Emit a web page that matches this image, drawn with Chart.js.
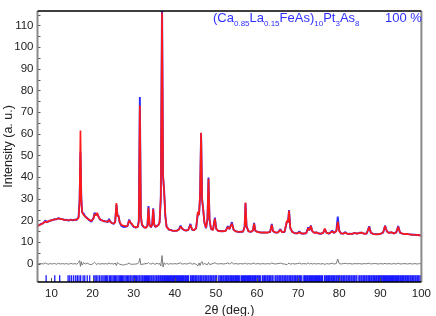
<!DOCTYPE html>
<html>
<head>
<meta charset="utf-8">
<script src="https://cdn.jsdelivr.net/npm/chart.js@4/dist/chart.umd.min.js"></script>
<style>
  html,body{margin:0;padding:0;background:#fff;}
  #wrap{position:relative;width:436px;height:316px;}
  #c{position:absolute;left:0;top:0;}
  .lbl{position:absolute;font-family:"Liberation Sans",Arial,sans-serif;font-size:13px;color:#2f2fff;white-space:nowrap;line-height:1;}
  .lbl sub{font-size:8px;vertical-align:-4px;line-height:0;}
</style>
</head>
<body>
<div id="wrap">
<canvas id="c" width="436" height="316"></canvas>
<div class="lbl" style="left:213px;top:11px;">(Ca<sub>0.85</sub>La<sub>0.15</sub>FeAs)<sub>10</sub>Pt<sub>3</sub>As<sub>8</sub></div>
<div class="lbl" style="left:385px;top:11px;">100 %</div>
</div>
<script>
const twoTheta = [6.6,7.0,7.5,8.0,8.5,8.8,9.2,9.7,10.2,10.7,11.2,11.7,12.2,12.7,13.2,13.7,14.2,14.7,15.2,15.7,16.2,16.6,16.85,17.05,17.25,17.45,17.8,18.2,18.7,19.2,19.7,20.2,20.5,20.8,21.1,21.4,21.8,22.3,22.8,23.3,23.7,24.0,24.3,24.7,25.2,25.5,25.8,26.05,26.3,26.6,27.0,27.5,28.0,28.5,28.9,29.2,29.6,30.0,30.5,31.0,31.25,31.5,31.75,32.0,32.5,33.0,33.35,33.6,33.85,34.2,34.5,34.75,35.0,35.3,35.7,36.0,36.3,36.6,36.9,37.15,37.4,37.7,38.0,38.5,39.0,39.5,40.0,40.5,41.0,41.4,41.8,42.3,42.8,43.3,43.8,44.2,44.7,45.2,45.6,45.9,46.15,46.4,46.65,46.9,47.2,47.6,47.95,48.2,48.45,48.8,49.3,49.75,50.1,50.6,51.2,51.8,52.4,52.9,53.3,53.9,54.3,54.8,55.4,56.0,56.6,57.0,57.2,57.45,57.9,58.5,59.0,59.3,59.6,60.2,60.8,61.4,62.0,62.6,63.2,63.6,63.9,64.5,65.1,65.7,66.1,66.7,67.3,67.55,67.8,68.1,68.6,69.2,69.8,70.3,70.8,71.4,72.0,72.45,72.75,73.1,73.45,74.0,74.4,74.9,75.5,76.1,76.5,76.9,77.5,78.0,78.3,78.7,79.3,79.65,80.0,80.5,81.0,81.5,82.0,82.6,83.2,83.8,84.3,84.9,85.5,86.1,86.7,87.3,87.7,88.3,88.9,89.5,90.1,90.7,91.15,91.6,92.1,92.7,93.3,93.9,94.35,94.8,95.4,96.0,96.6,97.2,97.8,98.4,99.0,99.6,100.0];
const yObs = [17.3,17.9,18.4,18.7,20.0,19.3,19.4,20.0,20.1,20.6,20.5,21.1,20.6,20.6,20.2,20.3,19.9,20.4,20.1,20.4,20.3,21.8,30.0,51.5,31.0,23.8,23.2,21.8,21.1,20.1,19.4,21.0,23.6,22.4,23.1,22.1,20.4,20.1,19.6,19.6,19.2,20.7,19.4,18.8,18.4,19.6,27.2,22.6,22.2,19.0,17.5,17.0,17.1,17.4,20.4,19.0,18.1,17.0,16.7,17.1,20.0,77.0,22.0,18.0,16.8,16.7,17.6,26.6,18.1,16.8,18.2,25.6,18.0,17.0,17.6,17.8,19.2,30.0,122,40.0,34.0,22.0,17.2,15.8,15.6,15.2,15.3,15.2,15.9,17.6,16.1,15.6,15.3,15.7,18.4,15.7,15.6,16.4,23.0,22.8,31.0,60.2,30.0,25.2,19.2,16.4,20.6,39.8,20.3,16.1,15.7,21.3,16.1,15.1,15.1,15.0,15.3,17.4,16.0,19.2,15.7,15.1,14.7,14.8,14.8,17.2,27.9,17.4,15.1,14.7,15.4,18.9,15.2,14.7,14.4,14.5,14.4,14.5,14.7,18.4,15.1,14.4,14.5,16.0,14.6,14.7,19.6,19.1,24.8,16.4,14.7,14.1,14.1,14.9,13.9,14.0,14.1,16.8,15.4,17.7,15.0,14.3,14.5,14.1,13.8,14.3,16.0,14.4,13.9,14.7,15.3,14.2,15.1,21.8,15.3,13.9,14.0,14.6,13.8,13.9,13.8,14.3,13.9,14.3,14.3,13.9,14.0,17.3,14.3,13.8,13.7,13.6,13.9,14.4,17.6,14.9,14.3,14.5,14.1,14.5,17.4,14.3,13.9,13.8,13.7,13.6,13.4,13.4,13.3,13.2,13.0];
const yCalc = [17.5,17.8,18.3,18.8,19.6,19.2,19.6,19.9,20.2,20.4,20.7,20.9,20.7,20.5,20.3,20.2,20.1,20.2,20.2,20.3,20.5,21.2,28.5,61.5,30.0,24.0,22.6,21.9,20.8,20.3,19.8,20.8,23.0,22.3,23.5,21.8,20.6,20.0,19.7,19.5,19.4,20.2,19.5,18.7,18.6,19.2,28.0,22.0,22.1,19.2,17.9,17.6,17.4,17.5,20.0,19.2,18.3,17.2,16.8,17.0,19.5,73.0,22.5,18.2,16.9,16.6,17.5,26.0,18.0,17.0,18.0,25.3,18.2,17.1,17.4,17.9,19.0,31.0,116,41.0,33.5,22.3,17.0,16.0,15.5,15.3,15.2,15.3,15.7,17.2,16.3,15.5,15.4,15.6,18.0,15.9,15.5,16.6,24.0,22.4,32.0,60.5,29.0,25.6,19.0,16.6,21.0,39.2,20.6,16.3,15.6,20.8,16.0,15.2,15.0,15.1,15.2,17.0,16.1,18.6,15.8,15.0,14.8,14.7,14.9,17.0,28.3,17.6,15.0,14.8,15.3,18.5,15.3,14.6,14.5,14.4,14.5,14.4,14.8,18.0,15.0,14.5,14.4,15.7,14.6,14.8,20.0,19.0,24.5,16.6,14.6,14.2,14.0,14.6,14.0,13.9,14.2,16.4,15.5,17.5,15.1,14.2,14.6,14.0,13.9,14.2,16.3,14.3,14.0,14.6,15.0,14.3,15.0,19.4,15.2,14.0,13.9,14.4,13.8,13.8,13.9,14.2,13.9,14.2,14.4,13.8,14.0,17.0,14.4,13.7,13.6,13.7,13.8,14.5,17.4,15.0,14.2,14.6,14.0,14.6,17.1,14.4,13.9,13.7,13.8,13.5,13.5,13.3,13.4,13.1,13.0];
const yDiff = [-0.2,0.1,0.1,-0.1,0.4,0.1,-0.2,0.1,-0.1,0.2,-0.2,0.2,-0.1,0.1,-0.1,0.1,-0.2,0.2,-0.1,0.1,-0.2,0.6,1.5,-1.2,1.0,-0.6,0.6,-0.1,0.3,-0.2,-0.4,0.2,0.6,0.1,-0.4,0.3,-0.2,0.1,-0.1,0.1,-0.2,0.5,-0.1,0.1,-0.2,0.4,-0.8,0.6,0.1,-0.2,-0.4,-0.6,-0.3,-0.1,0.4,-0.2,-0.2,-0.2,-0.1,0.1,0.5,2.5,-0.5,-0.2,-0.1,0.1,0.1,0.6,0.1,-0.2,0.2,0.3,-0.2,-0.1,0.2,-0.1,0.2,-1.0,3.8,-1.5,0.5,-0.3,0.2,-0.2,0.1,-0.1,0.1,-0.1,0.2,0.4,-0.2,0.1,-0.1,0.1,0.4,-0.2,0.1,-0.2,-1.0,0.4,-0.8,0.6,1.0,-0.4,0.2,-0.2,-0.4,0.6,-0.3,-0.2,0.1,0.5,0.1,-0.1,0.1,-0.1,0.1,0.4,-0.1,0.6,-0.1,0.1,-0.1,0.1,-0.1,0.2,0.4,-0.2,0.1,-0.1,0.1,0.4,-0.1,0.1,-0.1,0.1,-0.1,0.1,-0.1,0.4,0.1,-0.1,0.1,0.3,0.0,-0.1,-0.4,0.1,0.3,-0.2,0.1,-0.1,0.1,0.3,-0.1,0.1,-0.1,0.4,-0.1,0.2,-0.1,0.1,-0.1,0.1,-0.1,0.1,-0.3,0.1,-0.1,0.1,0.3,-0.1,0.1,2.2,0.1,-0.1,0.1,0.2,0.0,0.1,-0.1,0.1,0.0,0.1,-0.1,0.1,0.0,0.3,-0.1,0.1,0.1,-0.1,0.1,-0.1,0.2,-0.1,0.1,-0.1,0.1,-0.1,0.3,-0.1,0.0,0.1,-0.1,0.1,-0.1,0.1,-0.1,0.1,0.0];
const braggPos = [8.7,10.8,12.0,14.05,14.45,14.9,15.4,15.9,16.3,16.7,17.1,17.7,18.1,18.7,19.3,20.3,20.6,20.9,21.3,21.7,22.1,22.5,22.8,23.1,23.4,23.7,24.1,24.4,24.7,25.0,25.3,25.6,25.9,26.2,26.5,26.8,27.0,27.3,27.6,27.9,28.2,28.5,28.8,29.1,29.3,29.6,29.9,30.2,30.4,30.7,31.0,31.3,31.5,31.8,32.1,32.3,32.6,32.9,33.1,33.4,33.6,33.9,34.2,34.4,34.7,34.9,35.2,35.5,35.7,36.0,36.2,36.5,36.7,37.0,37.2,37.5,37.7,38.0,38.2,38.5,38.7,39.0,39.2,39.4,39.7,39.9,40.2,40.4,40.7,40.9,41.1,41.4,41.6,41.9,42.1,42.3,42.6,42.8,43.1,43.3,43.8,44.0,44.3,44.5,44.7,45.0,45.2,45.4,45.7,45.9,46.2,46.4,46.6,46.9,47.1,47.4,47.6,47.8,48.1,48.3,48.6,48.8,49.0,49.3,49.5,49.8,50.0,50.2,50.7,51.0,51.2,51.4,51.7,51.9,52.2,52.4,52.6,52.9,53.1,53.4,53.6,53.8,54.1,54.3,54.6,54.8,55.0,55.3,55.5,55.8,56.2,56.5,56.7,57.0,57.2,57.4,57.7,57.9,58.2,58.4,58.6,58.9,59.1,59.4,59.6,59.8,60.1,60.3,60.6,60.8,61.3,61.5,61.8,62.0,62.2,62.5,62.7,63.0,63.2,63.4,63.7,63.9,64.4,64.6,64.9,65.1,65.4,65.6,65.8,66.1,66.3,66.6,66.8,67.0,67.3,67.5,67.8,68.0,68.2,68.5,68.7,69.0,69.2,69.4,69.7,69.9,70.2,70.4,70.6,70.9,71.4,71.6,71.8,72.1,72.3,72.6,72.8,73.0,73.3,73.5,73.8,74.0,74.2,74.5,74.7,75.0,75.2,75.4,75.7,75.9,76.4,76.6,76.9,77.1,77.4,77.6,77.8,78.1,78.3,78.6,78.8,79.0,79.3,79.5,79.8,80.0,80.2,80.5,80.7,81.0,81.2,81.4,81.7,81.9,82.2,82.4,82.6,82.9,83.1,83.4,83.6,83.8,84.1,84.3,84.8,85.0,85.3,85.5,85.8,86.0,86.2,86.5,86.7,87.0,87.2,87.4,87.7,87.9,88.2,88.4,88.6,88.9,89.1,89.4,89.6,89.8,90.1,90.3,90.6,90.8,91.0,91.3,91.5,91.8,92.0,92.2,92.5,92.7,93.0,93.2,93.4,93.7,93.9,94.2,94.4,94.6,94.9,95.1,95.4,95.6,95.8,96.1,96.3,96.6,96.8,97.0,97.3,97.5,97.8,98.0,98.2,98.5,98.7,99.0,99.2,99.4,99.7,99.9];
const braggLevel = -6.9;
const xTicks = [10,20,30,40,50,60,70,80,90,100];
const yTicks = [0,5,10,15,20,25,30,35,40,45,50,55,60,65,70,75,80,85,90,95,100,105,110,115];

const pts = (ys) => twoTheta.map((x,i)=>({x:x,y:ys[i]}));

const framePlugin = {
  id:'frame',
  afterDraw(chart){
    const {ctx, chartArea:{left,right,top,bottom}, scales:{x,y}} = chart;
    ctx.save();
    ctx.lineWidth = 1;
    ctx.strokeStyle = '#555';
    ctx.beginPath();
    x.ticks.forEach(t=>{const px=Math.round(x.getPixelForValue(t.value))+0.5; ctx.moveTo(px,bottom); ctx.lineTo(px,bottom-4);});
    y.ticks.forEach(t=>{const py=Math.round(y.getPixelForValue(t.value))+0.5; ctx.moveTo(left,py); ctx.lineTo(left+3,py);});
    ctx.stroke();
    ctx.lineWidth = 2;
    ctx.strokeStyle = '#8a8a8a';
    ctx.beginPath();
    ctx.moveTo(left,top); ctx.lineTo(left,bottom);
    ctx.moveTo(right,top); ctx.lineTo(right,bottom);
    ctx.stroke();
    ctx.lineWidth = 1.5;
    ctx.strokeStyle = '#000';
    ctx.beginPath();
    ctx.moveTo(left,top); ctx.lineTo(right,top);
    ctx.moveTo(left,bottom); ctx.lineTo(right,bottom);
    ctx.stroke();
    ctx.restore();
  }
};

const font = {family:'"Liberation Sans", Arial, sans-serif', size:11.5};
new Chart(document.getElementById('c'), {
  type:'scatter',
  data:{datasets:[
    {label:'calc', data:pts(yCalc), showLine:true, borderColor:'#ff1a1a', borderWidth:1.7, borderJoinStyle:'bevel', pointRadius:0, order:0},
    {label:'obs', data:pts(yObs), showLine:true, borderColor:'#2b2bff', borderWidth:1.9, borderJoinStyle:'bevel', pointRadius:0, order:1},
    {label:'diff', data:pts(yDiff), showLine:true, borderColor:'#7a7a7a', borderWidth:1, borderJoinStyle:'bevel', pointRadius:0, order:2},
    {label:'bragg', data:braggPos.map(p=>({x:p,y:braggLevel})), showLine:false, pointStyle:'line', rotation:90, pointRadius:3.6, borderColor:'#1a1aff', borderWidth:1.3, order:3}
  ]},
  options:{
    responsive:false, animation:false, devicePixelRatio:1,
    layout:{padding:{top:3,right:10,left:0,bottom:0}},
    plugins:{legend:{display:false}, tooltip:{enabled:false}},
    elements:{line:{tension:0}},
    scales:{
      x:{type:'linear', min:6.6, max:100,
        afterBuildTicks:s=>{s.ticks = xTicks.map(v=>({value:v}));},
        afterFit:s=>{s.height = 34;},
        grid:{display:false, drawTicks:false, tickLength:0}, border:{display:false},
        ticks:{font:font, color:'#222', padding:5, maxRotation:0, autoSkip:false},
        title:{display:true, text:'2θ (deg.)', font:{family:font.family,size:12.5}, color:'#222', padding:{top:0,bottom:-2}}
      },
      y:{type:'linear', min:-8.4, max:116.7,
        afterBuildTicks:s=>{s.ticks = yTicks.map(v=>({value:v}));},
        afterFit:s=>{s.width = 37.5;},
        grid:{display:false, drawTicks:false, tickLength:0}, border:{display:false},
        ticks:{font:font, color:'#222', padding:4, autoSkip:false, callback:v=> (v%10===0 ? v : '')},
        title:{display:true, text:'Intensity (a. u.)', font:{family:font.family,size:12.5}, color:'#222', padding:{top:1,bottom:0}}
      }
    }
  },
  plugins:[framePlugin]
});
</script>
</body>
</html>
